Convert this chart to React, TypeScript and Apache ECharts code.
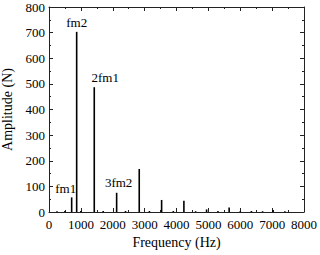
import React, { useEffect, useRef } from "react";
import * as echarts from "echarts";

const freqs = [250, 500, 711, 868, 1000, 1420, 1700, 2122, 2400, 2831, 3150, 3533, 3900, 4232, 4600, 4944, 5300, 5652, 6000, 6350, 6700, 7031, 7400];
const amps = [3, 4, 57, 703, 4, 487, 4, 75, 4, 168, 4, 47, 4, 44, 3, 10, 4, 18, 3, 4, 3, 8, 3];
const peakLabels: Record<number, string> = { 711: "fm1", 868: "fm2", 1420: "2fm1", 2122: "3fm2" };
const labelOffsets: Record<number, [number, number]> = { 711: [-6, 3], 868: [0, 2], 1420: [11, 2], 2122: [2, 1] };

const xTicks = [0, 1000, 2000, 3000, 4000, 5000, 6000, 7000, 8000];
const yTicks = [0, 100, 200, 300, 400, 500, 600, 700, 800];

export default function App() {
  const ref = useRef<HTMLDivElement>(null);
  useEffect(() => {
    document.body.style.margin = "0";
    const chart = echarts.init(ref.current!, null, { renderer: "svg" });
    const font = "Liberation Serif";
    const axisCommon = {
      axisLine: { show: true, onZero: false, lineStyle: { color: "#222", width: 1 } },
      axisTick: { show: true, inside: true, length: 4, lineStyle: { color: "#222" } },
      minorTick: { show: true, splitNumber: 2, length: 2, lineStyle: { color: "#222" } },
      splitLine: { show: false },
    };
    chart.setOption({
      animation: false,
      textStyle: { fontFamily: font },
      grid: { left: 49, right: 16, top: 7, bottom: 43, outerBoundsMode: "none", containLabel: false },
      xAxis: [
        {
          type: "value", min: xTicks[0], max: xTicks[xTicks.length - 1], interval: 1000,
          name: "Frequency (Hz)", nameLocation: "middle", nameGap: 21,
          nameTextStyle: { fontFamily: font, fontSize: 14, color: "#000" },
          axisLabel: { fontFamily: font, fontSize: 13, color: "#000", margin: 6, formatter: (v: number) => String(v) },
          ...axisCommon,
        },
        {
          type: "value", position: "top", min: 0, max: 8000, interval: 1000,
          axisLabel: { show: false }, ...axisCommon,
        },
      ],
      yAxis: [
        {
          type: "value", min: yTicks[0], max: yTicks[yTicks.length - 1], interval: 100,
          name: "Amplitude (N)", nameLocation: "middle", nameGap: 34,
          nameTextStyle: { fontFamily: font, fontSize: 14, color: "#000" },
          axisLabel: { fontFamily: font, fontSize: 13, color: "#000", margin: 4 },
          ...axisCommon,
        },
        {
          type: "value", position: "right", min: 0, max: 800, interval: 100,
          axisLabel: { show: false }, ...axisCommon,
        },
      ],
      series: [
        {
          type: "bar",
          barWidth: 1.6,
          itemStyle: { color: "#000" },
          data: freqs.map((f, i) => {
            const lbl = peakLabels[f];
            return lbl
              ? {
                  value: [f, amps[i]],
                  label: {
                    show: true, position: "top", formatter: lbl, offset: labelOffsets[f],
                    fontFamily: font, fontSize: 13, color: "#000",
                  },
                }
              : { value: [f, amps[i]] };
          }),
        },
      ],
    });
    return () => chart.dispose();
  }, []);
  return <div ref={ref} style={{ width: 320, height: 255 }} />;
}
